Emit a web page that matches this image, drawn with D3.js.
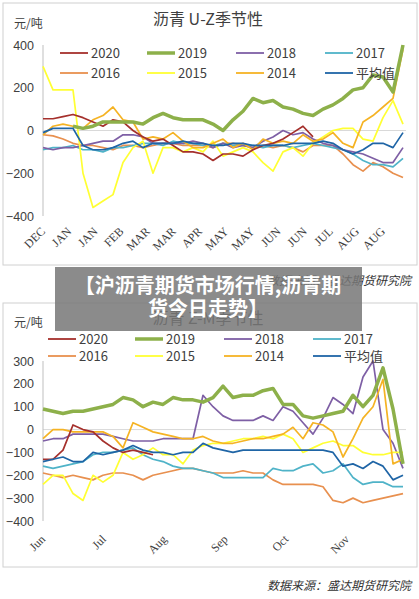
<!DOCTYPE html>
<html><head><meta charset="utf-8">
<script src="https://cdn.jsdelivr.net/npm/d3@7"></script>
<style>body{margin:0;background:#fff}svg{display:block}</style>
</head><body><svg id="c" width="419" height="599"></svg>
<script>
const seriesNames=["2020","2019","2018","2017","2016","2015","2014","平均值"];
const colors={"2020":"#a5302c","2019":"#8db04a","2018":"#7e5fa5","2017":"#4fb3c8","2016":"#e8904f","2015":"#ffff33","2014":"#f5b324","平均值":"#1f65a6"};
const N=null;
// top chart: U-Z seasonality
const topMonths=["DEC","JAN","JAN","FEB","MAR","MAR","APR","MAY","MAY","JUN","JUN","JUL","AUG","AUG"];
const topTicks=[400,200,0,-200,-400];
const top2020=[55,55,65,75,60,40,20,50,40,0,-30,-50,-40,-70,-100,-100,-110,-140,-110,-110,-120,-90,-70,-60,-40,-10,20,-30,N,N,N,N,N,N,N,N,N];
const top2019=[N,N,N,20,10,20,40,40,40,40,30,60,80,60,50,50,50,30,0,50,90,150,130,140,110,100,80,70,100,120,150,190,200,260,250,180,400];
const top2018=[-80,-90,-80,-80,-70,-60,-50,-50,-20,-20,-30,-60,-60,-60,-60,-50,-60,-80,-60,-80,-70,-80,-50,-30,0,-20,-10,-40,-60,-70,-90,-100,-110,-130,-150,-150,-80];
const top2017=[-90,-80,-80,-70,-90,-90,-100,-80,-80,-70,-60,-60,-70,-50,-60,-60,-70,-70,-60,-70,-70,-70,-80,-70,-70,-80,-70,-60,-70,-80,-90,-110,-140,-160,-160,-170,-130];
const top2016=[-20,-25,-40,-60,-70,-70,-80,-90,-70,-70,-80,-70,-60,-60,-70,-70,-70,-80,-60,-60,-70,-80,-70,-80,-70,-80,-100,-70,-70,-70,-110,-160,-190,-150,-170,-200,-220];
const top2015=[300,190,190,190,-200,-360,-330,-300,-150,-80,-50,-200,-80,-80,-100,-80,-100,-50,-120,-100,-80,-100,-150,-190,-100,-80,-120,-60,-30,0,10,10,-40,-50,60,140,30];
const top2014=[-20,20,30,20,10,50,70,110,50,40,-40,-30,-40,-10,-50,-80,-80,-60,-40,-80,-60,-90,-40,-60,-50,-60,-20,-50,-40,-10,-60,-80,40,70,110,150,380];
const topAvg=[-10,10,10,10,-70,-90,-90,-80,-60,-50,-80,-60,-60,-60,-50,-60,-60,-70,-70,-60,-60,-70,-70,-70,-70,-60,-60,-60,-50,-60,-90,-110,-90,-60,-60,-80,-10];
// bottom chart: Z-M seasonality
const botMonths=["Jun","Jul","Aug","Sep","Oct","Nov"];
const botTicks=[300,200,100,0,-100,-200,-300,-400];
const bot2020=[-130,-130,-90,20,0,-10,-50,-80,-100,-90,-100,-110,N,N,N,N,N,N,N,N,N,N,N,N,N,N,N,N,N,N,N,N,N,N,N,N,N];
const bot2019=[90,80,70,80,80,90,100,110,140,130,100,120,110,140,130,130,120,140,190,140,150,150,170,180,110,110,60,50,60,70,80,150,100,150,270,90,-150];
const bot2018=[-50,-40,-40,-20,-20,-20,-20,-30,-40,-50,-50,-50,-40,-40,-40,-40,150,100,60,40,40,40,60,40,100,80,30,-20,50,140,110,70,230,300,0,-60,-170];
const bot2017=[-160,-170,-160,-150,-140,-110,-100,-100,-90,-80,-110,-130,-140,-160,-170,-170,-180,-190,-210,-210,-210,-210,-210,-170,-180,-180,-160,-150,-190,-180,-150,-210,-240,-230,-230,-250,-250];
const bot2016=[-190,-200,-210,-200,-210,-220,-200,-190,-190,-200,-220,-200,-190,-180,-170,-170,-180,-190,-190,-190,-180,-190,-190,-220,-240,-240,-240,-240,-250,-310,-320,-300,-320,-310,-300,-290,-280];
const bot2015=[-240,-200,-200,-280,-310,-200,-230,-200,-100,-130,-110,-80,-110,-110,-150,-90,-70,-60,-60,-50,-40,-40,-30,-40,-20,-40,-100,-80,-60,-50,-70,-70,-100,-110,-110,-100,-100];
const bot2014=[-40,0,0,-10,-10,-10,-10,-30,-80,30,10,-10,-20,-30,-40,-40,-30,-50,-60,-60,-50,-40,-40,-30,-20,10,-40,30,20,-10,-120,-40,50,100,220,-150,-130];
const botAvg=[-140,-130,-120,-140,-140,-100,-110,-100,-90,-70,-90,-100,-100,-110,-100,-100,-60,-80,-90,-100,-90,-90,-90,-90,-90,-90,-90,-90,-90,-100,-160,-150,-170,-140,-160,-220,-200];

const svg=d3.select("#c");
const FONT="'Noto Sans CJK SC','Noto Sans',sans-serif";

function chart(o){
  const g=svg.append("g");
  g.append("rect").attr("x",o.box[0]).attr("y",o.box[1]).attr("width",o.box[2]).attr("height",o.box[3]).attr("fill","#fff").attr("stroke","#d0d0d0");
  const x=d3.scaleLinear().domain([0,36]).range([43,403]);
  const y=d3.scaleLinear().domain(o.ydom).range(o.yr);
  g.append("line").attr("x1",x(0)).attr("x2",x(36)+3).attr("y1",y(0)).attr("y2",y(0)).attr("stroke","#d9d9d9");
  g.append("line").attr("x1",43).attr("x2",43).attr("y1",y(o.ydom[1])).attr("y2",y(o.ydom[0])).attr("stroke","#bfbfbf");
  o.ticks.forEach(t=>g.append("text").attr("x",34).attr("y",y(t)+4.5).attr("text-anchor","end").attr("font-size",12.5).attr("fill","#404040").attr("font-family","'Liberation Sans',sans-serif").text(t<0?"\u2212"+(-t):t));
  const mx=d3.scalePoint().domain(d3.range(o.months.length)).range(o.mr);
  o.months.forEach((m,i)=>g.append("text").attr("transform",`translate(${mx(i)+3},${o.my}) rotate(-45)`).attr("text-anchor","end").attr("font-size",12).attr("fill","#404040").attr("font-family","'Liberation Serif',serif").text(m));
  const line=d3.line().defined(d=>d!=null).x((d,i)=>x(i)).y(d=>y(d));
  const order=["2016","2017","2018","2015","2014","2020","2019","平均值"];
  order.forEach(n=>{
    g.append("path").datum(o.data[n]).attr("d",line).attr("fill","none").attr("stroke",colors[n]).attr("stroke-width",n==="2019"?3.5:1.7).attr("stroke-linejoin","round");
  });
  g.append("text").attr("x",208).attr("y",o.ty).attr("text-anchor","middle").attr("font-size",16).attr("fill","#404040").attr("font-family",FONT).text(o.title);
  g.append("text").attr("x",14).attr("y",o.ty+3).attr("font-size",12).attr("fill","#404040").attr("font-family",FONT).text("元/吨");
  seriesNames.forEach((n,i)=>{
    const cx=[50,137,226,315][i%4], cy=o.ly+(i<4?0:o.lgap);
    g.append("line").attr("x1",cx+o.lo).attr("x2",cx+o.lo+28).attr("y1",cy).attr("y2",cy).attr("stroke",colors[n]).attr("stroke-width",n==="2019"?3.5:1.8);
    g.append("text").attr("x",cx+o.lo+31).attr("y",cy+5).attr("font-size",13).attr("fill","#404040").attr("font-family",FONT).text(n);
  });
}
chart({box:[3,3,414,262],ydom:[-400,400],yr:[216,45],ticks:topTicks,months:topMonths,mr:[43,383],my:232,title:"沥青  U-Z季节性",ty:25,ly:53,lgap:20,lo:10,
  data:{"2020":top2020,"2019":top2019,"2018":top2018,"2017":top2017,"2016":top2016,"2015":top2015,"2014":top2014,"平均值":topAvg}});
chart({box:[3,303,414,264],ydom:[-400,300],yr:[521,361],ticks:botTicks,months:botMonths,mr:[43,347],my:540,title:"沥青  Z-M季节性",ty:324,ly:339,lgap:17,lo:-2,
  data:{"2020":bot2020,"2019":bot2019,"2018":bot2018,"2017":bot2017,"2016":bot2016,"2015":bot2015,"2014":bot2014,"平均值":botAvg}});
svg.append("text").attr("x",411).attr("y",285).attr("text-anchor","end").attr("font-size",12).attr("font-style","italic").attr("fill","#333").attr("font-family",FONT).text("数据来源：盛达期货研究院");
svg.append("text").attr("x",411).attr("y",590).attr("text-anchor","end").attr("font-size",12).attr("font-style","italic").attr("fill","#333").attr("font-family",FONT).text("数据来源：盛达期货研究院");
svg.append("rect").attr("x",55).attr("y",267).attr("width",307).attr("height",64).attr("fill","#777").attr("opacity",0.85);
["【沪沥青期货市场行情,沥青期","货今日走势】"].forEach((t,i)=>svg.append("text").attr("x",208).attr("y",293+i*23).attr("text-anchor","middle").attr("font-size",20).attr("font-weight","bold").attr("fill","#fff").attr("font-family",FONT).text(t));
</script></body></html>
